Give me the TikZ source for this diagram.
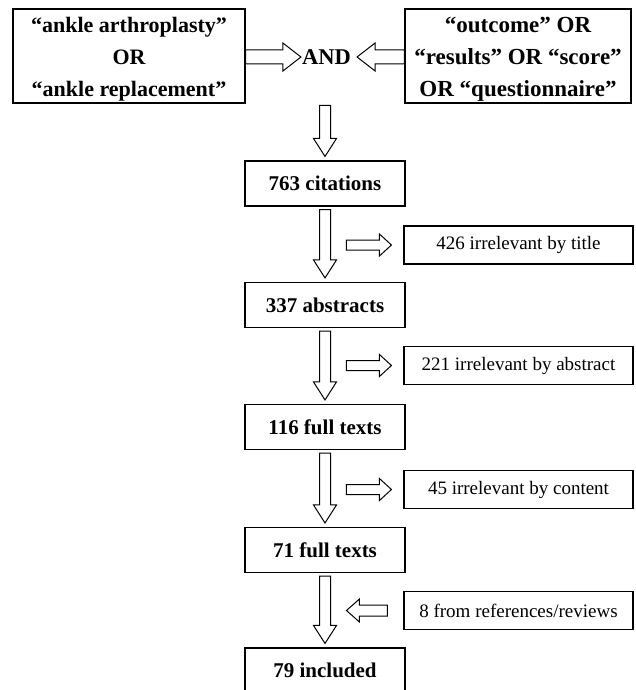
\documentclass[tikz,border=0pt]{standalone}
\usepackage{fontspec}
\setmainfont{Liberation Serif}
\usetikzlibrary{calc}
\tikzset{
  mainbox/.style={draw, line width=1.1pt, minimum width=160pt, minimum height=45pt, inner sep=0pt,
    font=\bfseries\fontsize{21}{25}\selectfont},
  topbox/.style={draw, line width=1.1pt, minimum height=94pt, inner sep=0pt},
  toptext/.style={inner sep=0pt, align=center, font=\bfseries\fontsize{22}{32}\selectfont},
  sidebox/.style={draw, line width=1.1pt, minimum width=229pt, minimum height=38pt, inner sep=0pt,
    font=\fontsize{19}{23}\selectfont},
  andlabel/.style={inner sep=0pt, font=\bfseries\fontsize{22.5}{26}\selectfont},
  blk/.style={draw, line width=1pt, fill=white, line join=miter},
}
% horizontal block arrow: from, to, shaft half, head half, head length (signed)
\newcommand\hblk[5]{\draw[blk] let \p1=(#1), \p2=(#2) in
  (\x1,{\y1+#3}) -- ({\x2-(#5)},{\y1+#3}) -- ({\x2-(#5)},{\y1+#4}) -- (\x2,\y1)
  -- ({\x2-(#5)},{\y1-#4}) -- ({\x2-(#5)},{\y1-#3}) -- (\x1,{\y1-#3}) -- cycle;}
% vertical (downward) block arrow
\newcommand\vblk[5]{\draw[blk] let \p1=(#1), \p2=(#2) in
  ({\x1-#3},\y1) -- ({\x1-#3},{\y2+#5}) -- ({\x1-#4},{\y2+#5}) -- (\x1,\y2)
  -- ({\x1+#4},{\y2+#5}) -- ({\x1+#3},{\y2+#5}) -- ({\x1+#3},\y1) -- cycle;}
\begin{document}
\begin{tikzpicture}[x=1pt,y=-1pt]
\clip (0,0) rectangle (636,690);
\fill[white] (0,0) rectangle (636,690);
% top row
\node[topbox, minimum width=232pt] (tl) at (129,56) {};
\node[toptext] (tlt) at ($(tl.center)+(0,3)$) {“ankle arthroplasty”\\OR\\“ankle replacement”};
\node[topbox, minimum width=226pt] (tr) at (518,56) {};
\node[toptext, font=\bfseries\fontsize{23}{32}\selectfont] (trt) at ($(tr.center)+(0,3)$)
  {“outcome” OR\\“results” OR “score”\\OR “questionnaire”};
\node[andlabel] (andn) at (326.5,57) {AND};
% main column
\node[mainbox] (c1) at (325,183.5) {763 citations};
\node[mainbox] (c2) at (325,305) {337 abstracts};
\node[mainbox] (c3) at (325,427) {116 full texts};
\node[mainbox] (c4) at (325,550) {71 full texts};
\node[mainbox] (c5) at (325,670.5) {79 included};
% side boxes
\node[sidebox] (s1) at (518.5,245) {426 irrelevant by title};
\node[sidebox] (s2) at (518.5,365.5) {221 irrelevant by abstract};
\node[sidebox] (s3) at (518.5,489.5) {45 irrelevant by content};
\node[sidebox] (s4) at (518.5,610.5) {8 from references/reviews};
% top horizontal arrows
\coordinate (ta1) at (tl.east |- andn.center);
\coordinate (tb1) at ($(andn.west)+(-1,0)$);
\coordinate (ta2) at (tr.west |- andn.center);
\coordinate (tb2) at ($(andn.east)+(6,0)$);
\hblk{ta1}{tb1}{7pt}{14pt}{18pt}
\hblk{ta2}{tb2}{7pt}{14pt}{-18pt}
% vertical arrows
\coordinate (v0a) at ($(c1.north)+(0,-55)$);
\coordinate (v0b) at ($(c1.north)+(0,-4)$);
\vblk{v0a}{v0b}{5.5pt}{11.5pt}{18pt}
\coordinate (v1a) at ($(c1.south)+(0,3)$);
\coordinate (v1b) at ($(c2.north)+(0,-4)$);
\vblk{v1a}{v1b}{5.5pt}{11.5pt}{18pt}
\coordinate (v2a) at ($(c2.south)+(0,3)$);
\coordinate (v2b) at ($(c3.north)+(0,-4)$);
\vblk{v2a}{v2b}{5.5pt}{11.5pt}{18pt}
\coordinate (v3a) at ($(c3.south)+(0,3)$);
\coordinate (v3b) at ($(c4.north)+(0,-4)$);
\vblk{v3a}{v3b}{5.5pt}{11.5pt}{18pt}
\coordinate (v4a) at ($(c4.south)+(0,3)$);
\coordinate (v4b) at ($(c5.north)+(0,-4)$);
\vblk{v4a}{v4b}{5.5pt}{11.5pt}{18pt}
% side arrows
\coordinate (r1a) at ($(s1.west)+(-57,0)$);
\coordinate (r1b) at ($(s1.west)+(-12,0)$);
\hblk{r1a}{r1b}{5pt}{11pt}{12pt}
\coordinate (r2a) at ($(s2.west)+(-57,0)$);
\coordinate (r2b) at ($(s2.west)+(-12,0)$);
\hblk{r2a}{r2b}{5pt}{11pt}{12pt}
\coordinate (r3a) at ($(s3.west)+(-57,0)$);
\coordinate (r3b) at ($(s3.west)+(-12,0)$);
\hblk{r3a}{r3b}{5pt}{11pt}{12pt}
\coordinate (r4a) at ($(s4.west)+(-16,0)$);
\coordinate (r4b) at ($(s4.west)+(-57,0)$);
\hblk{r4a}{r4b}{5.5pt}{11.5pt}{-13pt}
\end{tikzpicture}
\end{document}
